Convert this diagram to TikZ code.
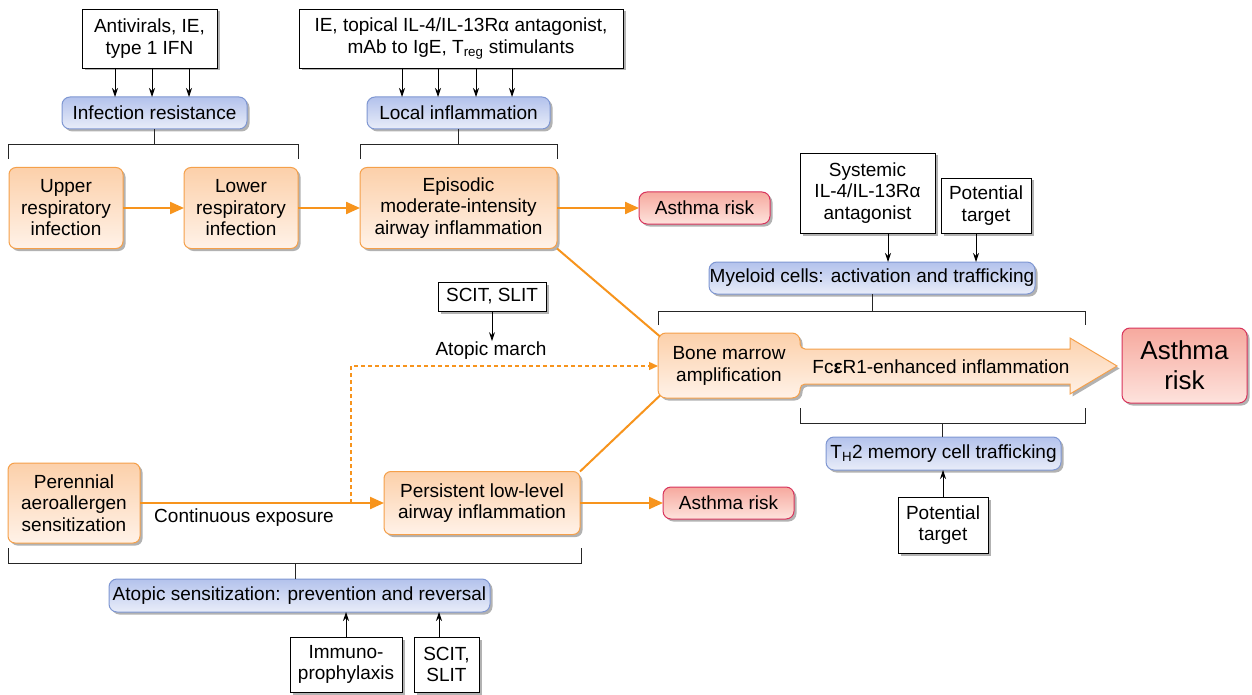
\documentclass[tikz,border=0pt]{standalone}
\usepackage{fontspec}
\setmainfont{Liberation Sans}
\usetikzlibrary{arrows.meta,shadows}
\definecolor{obord}{HTML}{F5A04A}
\definecolor{otop}{HTML}{FCD0AA}
\definecolor{obot}{HTML}{FFF2E8}
\definecolor{ocol}{HTML}{F7941D}
\definecolor{bbord}{HTML}{7F97D2}
\definecolor{btop}{HTML}{B3C2EC}
\definecolor{bbot}{HTML}{E9EDF9}
\definecolor{rbord}{HTML}{D8345C}
\definecolor{rtop}{HTML}{F6A99E}
\definecolor{rbot}{HTML}{FEE3DD}
\begin{document}
\begin{tikzpicture}[x=1pt,y=-1pt,
 every node/.style={font=\fontsize{19}{21.5}\selectfont, inner sep=0pt, outer sep=0pt, align=center},
 sz/.style 2 args={minimum width=#1pt, minimum height=#2pt},
 shd/.style={drop shadow={shadow xshift=2.5pt,shadow yshift=-2.5pt,opacity=0.3,fill=black}},
 obox/.style={shd, draw=obord, line width=1pt, rounded corners=7pt, top color=otop, bottom color=obot},
 bbox/.style={shd, draw=bbord, line width=1pt, rounded corners=8pt, top color=btop, bottom color=bbot},
 rbox/.style={shd, draw=rbord, line width=1pt, rounded corners=8pt, top color=rtop, bottom color=rbot},
 wbox/.style={shd, draw=black, line width=0.9pt, fill=white},
 oarr/.style={draw=ocol, line width=2.2pt, -{Triangle[length=14pt,width=12pt]}},
 oln/.style={draw=ocol, line width=2pt},
 odash/.style={draw=ocol, line width=1.4pt, dash pattern=on 4pt off 3pt, -{Triangle[length=9pt,width=8pt]}},
 barr/.style={draw=black, line width=0.9pt, -{Stealth[length=9pt,width=6pt]}},
 brk/.style={draw=black!85, line width=0.9pt}
]
\fill[white] (0,0) rectangle (1252,695);
\useasboundingbox (0,0) rectangle (1252,695);

% top row
\node[wbox,sz={135}{59}] (av) at (149.5,38.5) {Antivirals, IE,\\type 1 IFN};
\node[bbox,sz={185}{32}] (ir) at (154.5,113) {Infection resistance};
\node[obox,sz={114}{81}] (uri) at (66,208) {Upper\\respiratory\\infection};
\node[obox,sz={114}{81}] (lri) at (241,208) {Lower\\respiratory\\infection};
\node[wbox,sz={324}{59}] (tm) at (461,38.5) {IE, topical IL-4/IL-13Rα antagonist,\\mAb to IgE, T\textsubscript{reg} stimulants};
\node[bbox,sz={183}{32}] (li) at (458.5,113) {Local inflammation};
\node[obox,sz={197}{81}] (ep) at (458.5,208) {Episodic\\moderate-intensity\\airway inflammation};
\node[rbox,sz={131}{32}] (ar1) at (704.5,208) {Asthma risk};

% right part
\node[wbox,sz={135}{80}] (sys) at (867.5,193) {Systemic\\IL-4/IL-13Rα\\antagonist};
\node[wbox,sz={90}{55}] (pt1) at (986,205.5) {Potential\\target};
\node[bbox,sz={326}{32}] (my) at (872,278) {Myeloid cells: activation and trafficking};

\draw[shd, draw=obord, line width=1pt, top color=otop, bottom color=obot]
  (730,333) [rounded corners=8pt] -- (800,333) [rounded corners=5pt] -- (800,349)
  [sharp corners] -- (1070,349) -- (1070,338) -- (1117,366) -- (1070,394) -- (1070,384)
  [rounded corners=5pt] -- (800,384) [rounded corners=8pt] -- (800,398) -- (658,398) -- (658,333) -- cycle;
\node[sz={142}{65}] (bm) at (729,366) {Bone marrow\\amplification};
\node (fc) at (941,367) {Fc\textbf{ε}R1-enhanced inflammation};
\node[rbox,sz={125}{75},font=\fontsize{26}{30}\selectfont] (ar2) at (1184.5,365.5) {Asthma\\risk};

\node[bbox,sz={235}{33}] (th) at (943.5,453.5) {T\textsubscript{H}2 memory cell trafficking};
\node[wbox,sz={90}{56}] (pt2) at (943,525) {Potential\\target};
\node[rbox,sz={131}{32}] (ar3) at (728.5,503) {Asthma risk};

% middle / bottom
\node[wbox,sz={108}{29}] (sc1) at (492,296.5) {SCIT, SLIT};
\node[inner sep=1pt] (am) at (491,351) {Atopic march};
\node[obox,sz={132}{80}] (per) at (74,503) {Perennial\\aeroallergen\\sensitization};
\node[obox,sz={196}{63}] (pers) at (482,503) {Persistent low-level\\airway inflammation};
\node (ce) at (244,518) {Continuous exposure};
\node[bbox,sz={381}{33}] (as) at (299.5,595.5) {Atopic sensitization: prevention and reversal};
\node[wbox,sz={112}{55}] (imm) at (346,664.5) {Immuno-\\prophylaxis};
\node[wbox,sz={65}{55}] (sc2) at (446.5,664.5) {SCIT,\\SLIT};

% orange connectors
\draw[oarr] (uri) -- (lri);
\draw[oarr] (lri) -- (ep);
\draw[oarr] (ep) -- (ar1);
\draw[oarr] (per) -- (pers);
\draw[oarr] (pers) -- (ar3);
\draw[oln] (ep.south east) -- ([xshift=2pt,yshift=-3pt]bm.north west);
\draw[oln] (pers.north east) -- ([xshift=2pt,yshift=3pt]bm.south west);
\coordinate (dj) at (351,503);
\draw[odash] (dj) -- (dj |- bm.west) -- (bm.west);

% black arrows
\foreach \x in {115,152,189} \draw[barr] (av.south -| \x,0) -- (ir.north -| \x,0);
\foreach \x in {402,438,476,512} \draw[barr] (tm.south -| \x,0) -- (li.north -| \x,0);
\draw[barr] (sys.south -| 888,0) -- (my.north -| 888,0);
\draw[barr] (pt1.south -| 976,0) -- (my.north -| 976,0);
\draw[barr] (sc1.south) -- (sc1.south |- am.north);
\draw[barr] (pt2.north) -- (pt2.north |- th.south);
\draw[barr] (imm.north) -- (imm.north |- as.south);
\draw[barr] (sc2.north -| 439,0) -- (as.south -| 439,0);

% brackets
\draw[brk] (ir.south) -- (ir.south |- 0,144);
\draw[brk] (8,159) -- (8,144) -- (298,144) -- (298,159);
\draw[brk] (li.south) -- (li.south |- 0,144);
\draw[brk] (360,159) -- (360,144) -- (557,144) -- (557,159);
\draw[brk] (my.south) -- (my.south |- 0,311);
\draw[brk] (658,325) -- (658,311) -- (1085,311) -- (1085,325);
\draw[brk] (800,408) -- (800,423) -- (1085,423) -- (1085,408);
\draw[brk] (th.north -| 942,0) -- (942,423);
\draw[brk] (8,548) -- (8,563) -- (581,563) -- (581,548);
\draw[brk] (as.north -| 295,0) -- (295,563);
\end{tikzpicture}
\end{document}
